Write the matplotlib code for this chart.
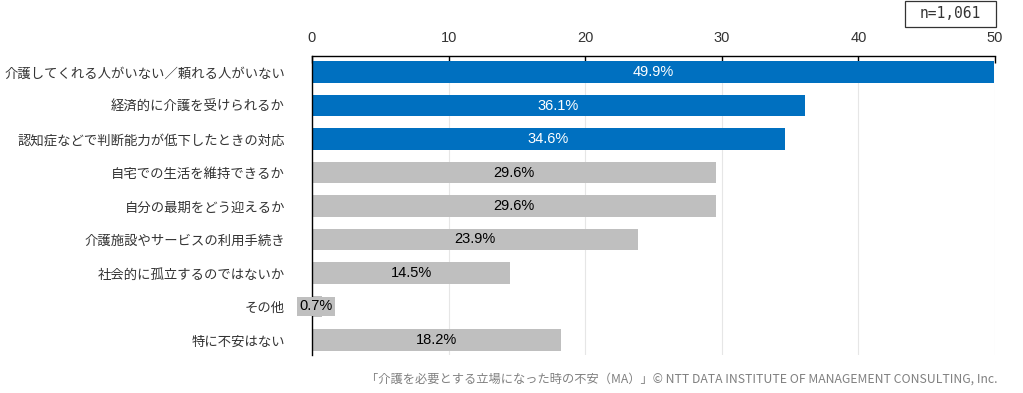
import matplotlib
matplotlib.use("Agg")
import matplotlib.pyplot as plt
from matplotlib.patches import Rectangle

plt.rcParams['font.family'] = ['Noto Sans CJK JP', 'DejaVu Sans']

categories = [
    "介護してくれる人がいない／頼れる人がいない",
    "経済的に介護を受けられるか",
    "認知症などで判断能力が低下したときの対応",
    "自宅での生活を維持できるか",
    "自分の最期をどう迎えるか",
    "介護施設やサービスの利用手続き",
    "社会的に孤立するのではないか",
    "その他",
    "特に不安はない",
]
values = [49.9, 36.1, 34.6, 29.6, 29.6, 23.9, 14.5, 0.7, 18.2]
highlight = [True, True, True, False, False, False, False, False, False]
xticks = [0, 10, 20, 30, 40, 50]

BLUE = "#0070C0"
GRAY = "#BFBFBF"
NUMFONT = ['Liberation Sans', 'DejaVu Sans']

fig = plt.figure(figsize=(10.23, 3.93), dpi=100)
ax = fig.add_axes([312/1023, 1-355/393, (995-312)/1023, (355-56)/393])

ypos = list(range(len(categories)))
colors = [BLUE if h else GRAY for h in highlight]
ax.barh(ypos, values, height=0.65, color=colors, zorder=3)

ax.set_xlim(0, 50)
ax.set_ylim(8.45, -0.48)
ax.set_xticks(xticks)
ax.set_xticklabels([str(t) for t in xticks], family=NUMFONT, fontsize=10.5, color='#333333')
ax.xaxis.tick_top()
ax.tick_params(axis='x', direction='in', length=5, width=1, pad=8)
ax.tick_params(axis='y', length=0, labelsize=9.6, pad=19.5)
ax.set_yticks(ypos)
ax.set_yticklabels(categories, color='#333333')
ax.grid(axis='x', color='#E6E6E6', linewidth=0.8, zorder=0)

for s in ['right', 'bottom']:
    ax.spines[s].set_visible(False)
ax.spines['top'].set_color('black')
ax.spines['left'].set_color('black')
ax.spines['top'].set_linewidth(1)
ax.spines['left'].set_linewidth(1)
ax.spines['left'].set_zorder(5)

for y, v, h in zip(ypos, values, highlight):
    label = f"{v:.1f}%"
    if v < 3:
        ax.text(0.3, y, label, ha='center', va='center', fontsize=10.5,
                family=NUMFONT, color='black', zorder=6,
                bbox=dict(boxstyle='square,pad=0.15', fc=GRAY, ec='none'))
    else:
        ax.text(v / 2, y, label, ha='center', va='center', fontsize=10.5,
                family=NUMFONT, color='white' if h else 'black', zorder=6)

fig.patches.append(Rectangle((905/1023, 1-27/393), 91/1023, 26/393,
                             transform=fig.transFigure, fc='white', ec='#333333', lw=0.9))
fig.text(950.5/1023, 1-14/393, "n=1,061", ha='center', va='center', fontsize=10.5,
         color='#333333', family=['DejaVu Sans Mono'])

fig.text(998/1023, 1-379/393,
         "「介護を必要とする立場になった時の不安（MA）」© NTT DATA INSTITUTE OF MANAGEMENT CONSULTING, Inc.",
         ha='right', va='center', fontsize=8.8, color='#808080')

fig.savefig("out.png", dpi=100)
